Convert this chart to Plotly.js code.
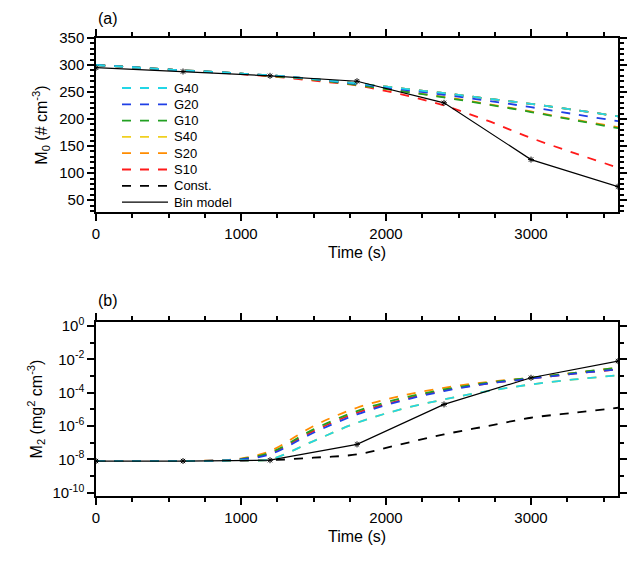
<!DOCTYPE html>
<html><head><script src="https://cdn.plot.ly/plotly-3.0.1.min.js"></script></head>
<body style="margin:0"><div id="plot" style="width:627px;height:561px"></div>
<script>
const names = ['G40','G20','G10','S40','S20','S10','Const.'];
const colors = ['#22d6e6','#1f3fe6','#22a022','#f0d020','#ff8c00','#ff1a1a','#000000'];
const tFine = [0,300,600,900,1000,1200,1500,1800,2100,2400,2700,3000,3300,3600];
// M0 (# cm-3)
const m0 = {
  'G40':   [300,295,290,286,284,281,274,266,257,248,238,228,217,205],
  'G20':   [300,295,290,286,284,281,274,265,255,245,234,222,209,196],
  'G10':   [300,295,290,286,284,280,273,263,252,240,227,213,198,183],
  'S40':   [300,295,290,286,284,281,274,266,257,248,238,228,217,205],
  'S20':   [300,295,290,286,284,280,273,263,252,241,228,214,199,185],
  'S10':   [300,295,290,285,283,279,271,262,246,225,197,165,137,110],
  'Const.':[300,295,290,286,284,281,274,266,257,248,238,228,217,205]
};
// log10 M2 (mg2 cm-3)
const m2 = {
  'G40':   [-8.1,-8.1,-8.1,-8.08,-8.05,-8.0,-6.9,-5.8,-5.0,-4.4,-3.9,-3.5,-3.2,-2.95],
  'G20':   [-8.1,-8.1,-8.1,-8.06,-8.0,-7.7,-6.4,-5.3,-4.5,-3.9,-3.45,-3.15,-2.85,-2.6],
  'G10':   [-8.1,-8.1,-8.1,-8.05,-7.98,-7.6,-6.2,-5.1,-4.35,-3.8,-3.4,-3.1,-2.8,-2.5],
  'S40':   [-8.1,-8.1,-8.1,-8.08,-8.05,-8.0,-6.9,-5.8,-5.0,-4.4,-3.9,-3.5,-3.2,-2.95],
  'S20':   [-8.1,-8.1,-8.1,-8.04,-7.95,-7.5,-6.0,-4.9,-4.2,-3.7,-3.35,-3.1,-2.8,-2.5],
  'S10':   [-8.1,-8.1,-8.1,-8.05,-7.98,-7.65,-6.3,-5.2,-4.45,-3.85,-3.45,-3.15,-2.85,-2.6],
  'Const.':[-8.1,-8.1,-8.1,-8.08,-8.07,-8.05,-7.9,-7.7,-7.1,-6.5,-6.0,-5.5,-5.2,-4.9]
};
const tBin = [0,600,1200,1800,2400,3000,3600];
const binM0 = [295,288,280,270,230,125,75];
const binM2 = [-8.1,-8.1,-8.05,-7.1,-4.7,-3.1,-2.1];

const traces = [];
const order = [6,5,4,3,2,1,0];
order.forEach(i => {
  const n = names[i];
  traces.push({x:tFine, y:m0[n], name:n, mode:'lines', line:{color:colors[i], dash:'dash', width:1.8, shape:'spline'}, xaxis:'x', yaxis:'y'});
  traces.push({x:tFine, y:m2[n].map(v=>Math.pow(10,v)), name:n, mode:'lines', line:{color:colors[i], dash:'dash', width:1.8, shape:'spline'}, xaxis:'x2', yaxis:'y2'});
});
traces.push({x:tBin, y:binM0, name:'Bin model', mode:'lines+markers', marker:{symbol:'asterisk-open', size:5, color:'#000'}, line:{color:'#000', width:1.2}, xaxis:'x', yaxis:'y'});
traces.push({x:tBin, y:binM2.map(v=>Math.pow(10,v)), mode:'lines+markers', marker:{symbol:'asterisk-open', size:5, color:'#000'}, line:{color:'#000', width:1.2}, xaxis:'x2', yaxis:'y2'});

// hand-built legend (NCL style, tight rows)
const legNames = names.concat(['Bin model']);
const legColors = colors.concat(['#000']);
const shapes = [], annotations = [];
legNames.forEach((n, k) => {
  const yp = 1 - (88 + k*16.3)/561;
  shapes.push({type:'line', xref:'paper', yref:'paper', x0:122/627, x1:168/627, y0:yp, y1:yp,
    line:{color:legColors[k], width: k<7 ? 1.8 : 1.2, dash: k<7 ? 'dash' : 'solid'}});
  annotations.push({text:n, x:172/627, y:yp, xref:'paper', yref:'paper', xanchor:'left', yanchor:'middle', showarrow:false, font:{size:13}});
});
annotations.push({text:'(a)', x:96/627, y:1-8/561, xref:'paper', yref:'paper', xanchor:'left', yanchor:'top', showarrow:false, font:{size:16}});
annotations.push({text:'(b)', x:96/627, y:1-290/561, xref:'paper', yref:'paper', xanchor:'left', yanchor:'top', showarrow:false, font:{size:16}});

const ax = {showgrid:false, zeroline:false, showline:true, linecolor:'#000', linewidth:1.5, mirror:'ticks', ticks:'outside', ticklen:7, tickwidth:1.5, tickcolor:'#000', tickfont:{size:15, color:'#000'}};
const xa = Object.assign({}, ax, {range:[0,3600], tickvals:[0,1000,2000,3000], minor:{dtick:250, ticks:'outside', ticklen:4, tickcolor:'#000'}});
const lv = [], lt = [];
for (let p=0; p>=-10; p-=2) { lv.push(Math.pow(10,p)); lt.push('10<sup>'+p+'</sup>'); }
const layout = {
  width:627, height:561, margin:{l:0,r:0,t:0,b:0},
  paper_bgcolor:'#fff', plot_bgcolor:'#fff',
  font:{family:'Liberation Sans, Arial', color:'#000'},
  showlegend:false,
  xaxis: Object.assign({}, xa, {domain:[96/627, 618/627], anchor:'y', title:{text:'Time (s)', font:{size:16}, standoff:6}}),
  yaxis: Object.assign({}, ax, {domain:[1-212/561, 1-38/561], anchor:'x', range:[28,350], dtick:50, minor:{dtick:10, ticks:'outside', ticklen:4, tickcolor:'#000'}, title:{text:'M<sub>0</sub> (# cm<sup>-3</sup>)', font:{size:16}, standoff:8}}),
  xaxis2: Object.assign({}, xa, {domain:[96/627, 618/627], anchor:'y2', title:{text:'Time (s)', font:{size:16}, standoff:6}}),
  yaxis2: Object.assign({}, ax, {type:'log', domain:[1-496/561, 1-322/561], anchor:'x2', range:[-10.2,0.25], tickvals:lv, ticktext:lt, minor:{dtick:1, ticks:'outside', ticklen:4, tickcolor:'#000'}, title:{text:'M<sub>2</sub> (mg<sup>2</sup> cm<sup>-3</sup>)', font:{size:16}, standoff:6}}),
  shapes: shapes,
  annotations: annotations
};
Plotly.newPlot('plot', traces, layout, {displayModeBar:false});
</script></body></html>
